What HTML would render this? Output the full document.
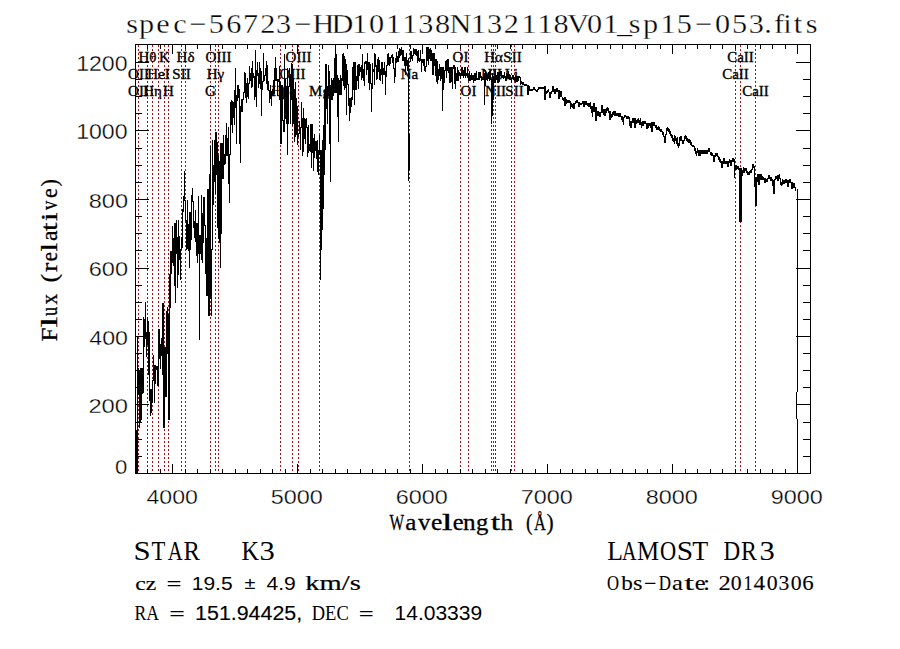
<!DOCTYPE html><html><head><meta charset="utf-8"><style>html,body{margin:0;padding:0;background:#fff;}svg{display:block}</style></head><body>
<svg width="900" height="649" viewBox="0 0 900 649">
<rect width="900" height="649" fill="#fff"/>
<path d="M138.5 45V473M147.5 45V473M152.5 45V473M158.5 45V473M164.5 45V473M168.5 45V473M181.5 45V473M185.5 45V473M210.5 45V473M215.5 45V473M218.5 45V473M280.5 45V473M292.5 45V473M298.5 45V473M319.5 45V473M409.5 45V473M460.5 45V473M468.5 45V473M491.5 45V473M493.5 45V473M495.5 45V473M511.5 45V473M514.5 45V473M735.5 45V473M740.5 45V473M755.5 45V473" stroke="#a80c12" stroke-width="1" stroke-dasharray="2 2" fill="none"/>
<rect x="135.5" y="44.5" width="675" height="429" fill="none" stroke="#000" stroke-width="1"/>
<path d="M147.5 473V469M147.5 44V49M160.5 473V469M160.5 44V49M172.5 473V464M172.5 44V54M185.5 473V469M185.5 44V49M197.5 473V469M197.5 44V49M210.5 473V469M210.5 44V49M222.5 473V469M222.5 44V49M235.5 473V469M235.5 44V49M247.5 473V469M247.5 44V49M260.5 473V469M260.5 44V49M272.5 473V469M272.5 44V49M285.5 473V469M285.5 44V49M297.5 473V464M297.5 44V54M310.5 473V469M310.5 44V49M322.5 473V469M322.5 44V49M335.5 473V469M335.5 44V49M347.5 473V469M347.5 44V49M360.5 473V469M360.5 44V49M372.5 473V469M372.5 44V49M385.5 473V469M385.5 44V49M397.5 473V469M397.5 44V49M410.5 473V469M410.5 44V49M422.5 473V464M422.5 44V54M435.5 473V469M435.5 44V49M447.5 473V469M447.5 44V49M460.5 473V469M460.5 44V49M472.5 473V469M472.5 44V49M485.5 473V469M485.5 44V49M497.5 473V469M497.5 44V49M510.5 473V469M510.5 44V49M522.5 473V469M522.5 44V49M535.5 473V469M535.5 44V49M547.5 473V464M547.5 44V54M560.5 473V469M560.5 44V49M572.5 473V469M572.5 44V49M585.5 473V469M585.5 44V49M597.5 473V469M597.5 44V49M610.5 473V469M610.5 44V49M622.5 473V469M622.5 44V49M635.5 473V469M635.5 44V49M647.5 473V469M647.5 44V49M660.5 473V469M660.5 44V49M672.5 473V464M672.5 44V54M685.5 473V469M685.5 44V49M697.5 473V469M697.5 44V49M710.5 473V469M710.5 44V49M722.5 473V469M722.5 44V49M735.5 473V469M735.5 44V49M747.5 473V469M747.5 44V49M760.5 473V469M760.5 44V49M772.5 473V469M772.5 44V49M785.5 473V469M785.5 44V49M797.5 473V464M797.5 44V54M135 456.5H142M810 456.5H803M135 439.5H142M810 439.5H803M135 422.5H142M810 422.5H803M135 404.5H149M810 404.5H796M135 387.5H142M810 387.5H803M135 370.5H142M810 370.5H803M135 353.5H142M810 353.5H803M135 336.5H149M810 336.5H796M135 319.5H142M810 319.5H803M135 302.5H142M810 302.5H803M135 285.5H142M810 285.5H803M135 268.5H149M810 268.5H796M135 250.5H142M810 250.5H803M135 233.5H142M810 233.5H803M135 216.5H142M810 216.5H803M135 199.5H149M810 199.5H796M135 182.5H142M810 182.5H803M135 165.5H142M810 165.5H803M135 148.5H142M810 148.5H803M135 130.5H149M810 130.5H796M135 113.5H142M810 113.5H803M135 96.5H142M810 96.5H803M135 79.5H142M810 79.5H803M135 62.5H149M810 62.5H796" stroke="#000" stroke-width="1" fill="none" shape-rendering="crispEdges"/>
<path d="M136.5 430V473M137.5 336V473M138.5 368V395M139.5 370V428M140.5 368V422M141.5 368V420M142.5 368V394M143.5 317V393M144.5 319V347M145.5 302V339M146.5 332V357M147.5 317V345M148.5 321V375M149.5 332V401M150.5 389V416M151.5 389V413M152.5 380V403M153.5 355V381M154.5 365V403M155.5 365V384M156.5 366V370M157.5 366V386M158.5 329V386M159.5 329V359M160.5 344V369M161.5 338V356M162.5 303V375M163.5 303V428M164.5 347V428M165.5 347V397M166.5 311V397M167.5 307V354M168.5 314V420M169.5 274V420M170.5 251V308M171.5 251V274M172.5 226V263M173.5 238V266M174.5 223V286M175.5 223V303M176.5 220V254M177.5 237V288M178.5 220V275M179.5 236V260M180.5 249V280M181.5 237V250M182.5 209V248M183.5 196V212M184.5 171V201M185.5 200V221M186.5 220V250M187.5 200V249M188.5 224V251M189.5 212V268M190.5 212V250M191.5 195V240M192.5 188V202M193.5 201V228M194.5 221V238M195.5 210V242M196.5 223V256M197.5 223V263M198.5 196V254M199.5 235V340M200.5 235V254M201.5 195V260M202.5 213V263M203.5 197V243M204.5 197V226M205.5 225V274M206.5 238V296M207.5 189V296M208.5 189V316M209.5 174V316M210.5 146V299M211.5 249V316M212.5 140V250M213.5 165V205M214.5 140V182M215.5 132V194M216.5 132V175M217.5 142V228M218.5 155V239M219.5 161V243M220.5 143V268M221.5 143V234M222.5 143V179M223.5 135V179M224.5 154V165M225.5 135V164M226.5 123V156M227.5 138V156M228.5 127V184M229.5 154V203M230.5 102V155M231.5 100V125M232.5 101V133M233.5 102V118M234.5 90V125M235.5 68V108M236.5 95V144M237.5 85V101M238.5 85V98M239.5 89V144M240.5 106V163M241.5 99V112M242.5 99V112M243.5 92V100M244.5 72V93M245.5 73V98M246.5 83V103M247.5 78V97M248.5 83V99M249.5 66V84M250.5 73V81M251.5 68V88M252.5 61V87M253.5 73V78M254.5 76V100M255.5 50V97M256.5 70V107M257.5 62V76M258.5 73V88M259.5 62V84M260.5 68V89M261.5 71V116M262.5 81V90M263.5 53V82M264.5 75V81M265.5 68V76M266.5 61V84M267.5 65V90M268.5 81V91M269.5 90V103M270.5 85V99M271.5 91V106M272.5 89V96M273.5 80V94M274.5 68V94M275.5 57V81M276.5 68V81M277.5 79V96M278.5 79V82M279.5 66V100M280.5 82V144M281.5 85V144M282.5 85V121M283.5 120V132M284.5 54V132M285.5 79V119M286.5 86V124M287.5 68V155M288.5 86V124M289.5 68V87M290.5 74V124M291.5 63V100M292.5 64V126M293.5 78V124M294.5 89V142M295.5 82V137M296.5 98V135M297.5 106V145M298.5 133V137M299.5 121V134M300.5 127V150M301.5 102V128M302.5 118V156M303.5 108V152M304.5 118V139M305.5 119V144M306.5 118V128M307.5 127V157M308.5 125V153M309.5 144V151M310.5 124V152M311.5 124V168M312.5 124V153M313.5 138V171M314.5 134V158M315.5 141V151M316.5 141V159M317.5 140V172M318.5 150V175M319.5 135V155M320.5 150V280M321.5 150V250M322.5 140V230M323.5 125V209M324.5 90V175M325.5 64V150M326.5 64V109M327.5 86V124M328.5 65V96M329.5 71V144M330.5 85V182M331.5 78V100M332.5 80V100M333.5 78V96M334.5 58V93M335.5 48V93M336.5 54V93M337.5 75V117M338.5 78V142M339.5 80V95M340.5 75V95M341.5 78V95M342.5 54V81M343.5 53V86M344.5 56V90M345.5 59V88M346.5 64V115M347.5 70V85M348.5 84V106M349.5 98V121M350.5 98V113M351.5 97V107M352.5 67V100M353.5 62V90M354.5 62V105M355.5 62V90M356.5 76V90M357.5 65V81M358.5 64V89M359.5 64V76M360.5 67V72M361.5 65V80M362.5 54V78M363.5 69V81M364.5 62V86M365.5 61V64M366.5 61V75M367.5 53V70M368.5 62V83M369.5 62V90M370.5 64V84M371.5 83V112M372.5 63V89M373.5 69V72M374.5 53V85M375.5 54V67M376.5 65V80M377.5 59V79M378.5 57V72M379.5 60V80M380.5 69V81M381.5 62V75M382.5 62V84M383.5 68V75M384.5 62V75M385.5 71V95M386.5 65V77M387.5 54V66M388.5 53V65M389.5 57V66M390.5 57V64M391.5 55V58M392.5 54V63M393.5 57V69M394.5 68V83M395.5 58V77M396.5 52V63M397.5 56V62M398.5 51V62M399.5 48V58M400.5 49V56M401.5 47V55M402.5 50V61M403.5 50V61M404.5 57V66M405.5 57V75M406.5 53V66M407.5 60V71M408.5 58V181M410.5 51V62M411.5 51V59M412.5 55V61M413.5 48V56M414.5 49V54M415.5 49V55M416.5 49V56M417.5 51V63M418.5 50V61M419.5 58V62M420.5 50V61M421.5 59V72M422.5 59V63M423.5 59V66M424.5 59V71M425.5 66V72M426.5 47V67M427.5 47V61M428.5 47V65M429.5 49V59M430.5 48V61M431.5 50V61M432.5 53V75M433.5 53V75M434.5 53V66M435.5 59V76M436.5 59V82M437.5 61V84M438.5 69V80M439.5 64V76M440.5 67V81M441.5 67V79M442.5 67V111M443.5 67V90M444.5 70V83M445.5 61V71M446.5 60V78M447.5 59V71M448.5 59V73M449.5 67V83M450.5 67V83M451.5 67V82M452.5 67V89M453.5 65V69M454.5 65V84M455.5 67V89M456.5 73V81M457.5 67V81M458.5 70V81M459.5 72V76M460.5 73V79M461.5 67V76M462.5 67V76M463.5 70V78M464.5 67V76M465.5 67V78M466.5 73V76M467.5 67V78M468.5 74V81M469.5 71V81M470.5 75V81M471.5 73V80M472.5 75V80M473.5 75V83M474.5 73V81M475.5 73V81M476.5 71V80M477.5 78V80M478.5 72V80M479.5 72V80M480.5 72V78M481.5 76V81M482.5 77V80M483.5 70V80M484.5 73V105M485.5 70V86M486.5 73V80M487.5 75V81M488.5 72V79M489.5 71V81M490.5 70V80M491.5 79V124M492.5 73V116M493.5 76V100M494.5 78V83M495.5 71V83M496.5 75V80M497.5 72V83M498.5 72V83M499.5 72V82M500.5 71V76M501.5 71V78M502.5 75V78M503.5 75V79M504.5 72V78M505.5 76V81M506.5 73V81M507.5 74V78M508.5 71V79M509.5 74V80M510.5 75V80M511.5 78V83M512.5 75V79M513.5 75V80M514.5 77V81M515.5 75V83M516.5 76V82M517.5 76V82M518.5 76V81M519.5 76V78M520.5 77V85M521.5 81V84M522.5 82V85M523.5 82V85M524.5 84V86M525.5 84V86M526.5 84V86M527.5 85V95M528.5 85V95M529.5 86V91M530.5 89V91M531.5 89V91M532.5 89V91M533.5 87V90M534.5 87V90M535.5 89V91M536.5 90V92M537.5 89V92M538.5 87V90M539.5 87V89M540.5 87V89M541.5 87V89M542.5 87V89M543.5 87V89M544.5 86V100M545.5 86V100M546.5 91V94M547.5 90V93M548.5 89V92M549.5 92V98M550.5 92V98M551.5 91V94M552.5 86V92M553.5 86V92M554.5 89V94M555.5 89V94M556.5 88V92M557.5 88V92M558.5 90V99M559.5 90V99M560.5 91V97M561.5 91V97M562.5 97V100M563.5 98V101M564.5 97V106M565.5 97V106M566.5 99V104M567.5 100V103M568.5 100V103M569.5 100V103M570.5 101V109M571.5 103V107M572.5 104V108M573.5 103V109M574.5 103V109M575.5 101V104M576.5 100V103M577.5 100V103M578.5 102V107M579.5 102V107M580.5 103V105M581.5 103V105M582.5 101V104M583.5 101V107M584.5 101V107M585.5 101V105M586.5 101V105M587.5 103V106M588.5 103V107M589.5 103V107M590.5 102V109M591.5 106V113M592.5 106V117M593.5 103V112M594.5 103V112M595.5 107V121M596.5 107V121M597.5 111V116M598.5 111V116M599.5 112V117M600.5 112V117M601.5 105V113M602.5 105V113M603.5 109V115M604.5 109V116M605.5 109V116M606.5 108V113M607.5 107V111M608.5 108V113M609.5 111V120M610.5 111V120M611.5 114V118M612.5 112V117M613.5 111V115M614.5 111V116M615.5 111V116M616.5 113V116M617.5 113V116M618.5 113V117M619.5 113V117M620.5 113V117M621.5 116V120M622.5 116V122M623.5 117V125M624.5 115V118M625.5 115V117M626.5 116V119M627.5 116V119M628.5 116V119M629.5 117V126M630.5 121V128M631.5 121V128M632.5 118V123M633.5 118V123M634.5 118V128M635.5 118V128M636.5 120V124M637.5 119V123M638.5 118V123M639.5 120V125M640.5 118V125M641.5 122V128M642.5 121V126M643.5 121V126M644.5 121V124M645.5 121V124M646.5 123V129M647.5 123V129M648.5 123V128M649.5 123V126M650.5 123V128M651.5 122V132M652.5 122V132M653.5 122V126M654.5 122V126M655.5 125V128M656.5 125V130M657.5 127V130M658.5 126V130M659.5 127V131M660.5 129V132M661.5 129V132M662.5 131V135M663.5 132V137M664.5 136V143M665.5 134V143M666.5 128V135M667.5 127V131M668.5 128V132M669.5 129V134M670.5 131V136M671.5 134V138M672.5 135V141M673.5 138V142M674.5 135V144M675.5 136V141M676.5 138V144M677.5 137V146M678.5 143V148M679.5 137V146M680.5 136V141M681.5 136V141M682.5 140V144M683.5 140V144M684.5 136V141M685.5 135V139M686.5 136V141M687.5 138V142M688.5 139V143M689.5 139V143M690.5 140V145M691.5 142V146M692.5 145V147M693.5 145V147M694.5 146V151M695.5 148V154M696.5 151V156M697.5 148V153M698.5 150V156M699.5 150V156M700.5 150V156M701.5 150V154M702.5 150V154M703.5 150V154M704.5 150V154M705.5 150V154M706.5 150V154M707.5 150V154M708.5 148V152M709.5 148V152M710.5 152V155M711.5 152V156M712.5 153V156M713.5 155V162M714.5 155V162M715.5 153V157M716.5 153V156M717.5 153V157M718.5 156V160M719.5 157V162M720.5 159V163M721.5 161V168M722.5 161V168M723.5 158V164M724.5 158V164M725.5 161V164M726.5 161V164M727.5 161V167M728.5 161V167M729.5 159V163M730.5 160V166M731.5 160V166M732.5 158V162M733.5 158V162M734.5 159V178M735.5 165V170M736.5 165V170M737.5 166V169M738.5 166V170M739.5 168V222M740.5 168V222M741.5 168V222M742.5 170V176M743.5 167V173M744.5 168V173M745.5 168V171M746.5 168V173M747.5 171V175M748.5 172V175M749.5 171V175M750.5 170V173M751.5 169V173M752.5 164V170M753.5 164V168M754.5 166V187M755.5 177V206M756.5 177V206M757.5 174V182M758.5 174V185M759.5 174V185M760.5 174V180M761.5 174V180M762.5 176V180M763.5 177V180M764.5 178V183M765.5 178V183M766.5 179V182M767.5 178V182M768.5 175V179M769.5 175V179M770.5 177V181M771.5 177V181M772.5 179V186M773.5 180V194M774.5 179V194M775.5 176V180M776.5 176V179M777.5 175V181M778.5 175V181M779.5 174V179M780.5 178V185M781.5 182V186M782.5 179V185M783.5 180V184M784.5 180V184M785.5 179V183M786.5 179V183M787.5 180V187M788.5 180V187M789.5 179V183M790.5 179V183M791.5 182V189M792.5 182V189M793.5 183V188M794.5 183V188M795.5 187V191M409.5 134V170" stroke="#000" stroke-width="1" fill="none" shape-rendering="crispEdges"/>
<path d="M797.5 189V392M796.5 392V419M797.5 419V473" stroke="#000" stroke-width="1" fill="none" shape-rendering="crispEdges"/>
<g font-family="Liberation Serif" font-size="15" fill="#000" stroke="#000" stroke-width="0.35"><text x="147.5" y="61.5" text-anchor="middle">Hθ</text><text x="164.5" y="61.5" text-anchor="middle">K</text><text x="185.5" y="61.5" text-anchor="middle">Hδ</text><text x="218.5" y="61.5" text-anchor="middle">OIII</text><text x="298.5" y="61.5" text-anchor="middle">OIII</text><text x="460.5" y="61.5" text-anchor="middle">OI</text><text x="493.5" y="61.5" text-anchor="middle">Hα</text><text x="512.5" y="61.5" text-anchor="middle">SII</text><text x="740.5" y="61.5" text-anchor="middle">CaII</text><text x="138.5" y="79" text-anchor="middle">OII</text><text x="158.5" y="79" text-anchor="middle">HeI</text><text x="181.5" y="79" text-anchor="middle">SII</text><text x="215.5" y="79" text-anchor="middle">Hγ</text><text x="292.5" y="79" text-anchor="middle">OIII</text><text x="409.5" y="79" text-anchor="middle">Na</text><text x="491.5" y="79" text-anchor="middle">NII</text><text x="511.5" y="79" text-anchor="middle">Li</text><text x="735.5" y="79" text-anchor="middle">CaII</text><text x="138.5" y="96" text-anchor="middle">OII</text><text x="152.5" y="96" text-anchor="middle">Hη</text><text x="168.5" y="96" text-anchor="middle">H</text><text x="210.5" y="96" text-anchor="middle">G</text><text x="280.5" y="96" text-anchor="middle">Hβ</text><text x="319.5" y="96" text-anchor="middle">Mg</text><text x="468.5" y="96" text-anchor="middle">OI</text><text x="495.5" y="96" text-anchor="middle">NII</text><text x="514.5" y="96" text-anchor="middle">SII</text><text x="755.5" y="96" text-anchor="middle">CaII</text></g>
<text transform="translate(389.40,529.70) scale(0.3868,0.5600)" font-family="Liberation Serif" font-weight="normal" font-size="40" stroke="#000" stroke-width="0.50">W</text>
<text transform="translate(405.27,529.70) scale(0.6294,0.5600)" font-family="Liberation Serif" font-weight="normal" font-size="40" stroke="#000" stroke-width="0.50">a</text>
<text transform="translate(417.90,529.70) scale(0.6200,0.5600)" font-family="Liberation Serif" font-weight="normal" font-size="40" stroke="#000" stroke-width="0.50">v</text>
<text transform="translate(431.06,529.70) scale(0.6375,0.5600)" font-family="Liberation Serif" font-weight="normal" font-size="40" stroke="#000" stroke-width="0.50">e</text>
<text transform="translate(441.82,529.70) scale(0.9800,0.5600)" font-family="Liberation Serif" font-weight="normal" font-size="40" stroke="#000" stroke-width="0.50">l</text>
<text transform="translate(452.79,529.70) scale(0.6125,0.5600)" font-family="Liberation Serif" font-weight="normal" font-size="40" stroke="#000" stroke-width="0.50">e</text>
<text transform="translate(462.97,529.70) scale(0.6316,0.5600)" font-family="Liberation Serif" font-weight="normal" font-size="40" stroke="#000" stroke-width="0.50">n</text>
<text transform="translate(476.07,529.70) scale(0.6167,0.5600)" font-family="Liberation Serif" font-weight="normal" font-size="40" stroke="#000" stroke-width="0.50">g</text>
<text transform="translate(490.70,529.70) scale(0.8455,0.5600)" font-family="Liberation Serif" font-weight="normal" font-size="40" stroke="#000" stroke-width="0.50">t</text>
<text transform="translate(500.40,529.70) scale(0.6250,0.5600)" font-family="Liberation Serif" font-weight="normal" font-size="40" stroke="#000" stroke-width="0.50">h</text>
<text transform="translate(526.02,529.70) scale(0.4900,0.5600)" font-family="Liberation Serif" font-weight="normal" font-size="40" stroke="#000" stroke-width="0.50">(</text>
<text transform="translate(534.00,529.70) scale(0.4103,0.5600)" font-family="Liberation Serif" font-weight="normal" font-size="40" stroke="#000" stroke-width="0.50">Å</text>
<text transform="translate(546.46,529.70) scale(0.5364,0.5600)" font-family="Liberation Serif" font-weight="normal" font-size="40" stroke="#000" stroke-width="0.50">)</text>
<text transform="translate(607.07,589.60) scale(0.4160,0.5150)" font-family="Liberation Serif" font-weight="normal" font-size="40" stroke="#000" stroke-width="0.24">O</text>
<text transform="translate(621.30,589.60) scale(0.5789,0.5150)" font-family="Liberation Serif" font-weight="normal" font-size="40" stroke="#000" stroke-width="0.24">b</text>
<text transform="translate(632.98,589.60) scale(0.6083,0.5150)" font-family="Liberation Serif" font-weight="normal" font-size="40" stroke="#000" stroke-width="0.24">s</text>
<text transform="translate(644.11,589.60) scale(0.5474,0.5150)" font-family="Liberation Serif" font-weight="normal" font-size="40" stroke="#000" stroke-width="0.24">−</text>
<text transform="translate(658.78,589.60) scale(0.4231,0.5150)" font-family="Liberation Serif" font-weight="normal" font-size="40" stroke="#000" stroke-width="0.24">D</text>
<text transform="translate(672.09,589.60) scale(0.6125,0.5150)" font-family="Liberation Serif" font-weight="normal" font-size="40" stroke="#000" stroke-width="0.24">a</text>
<text transform="translate(684.30,589.60) scale(0.8909,0.5150)" font-family="Liberation Serif" font-weight="normal" font-size="40" stroke="#000" stroke-width="0.24">t</text>
<text transform="translate(694.69,589.60) scale(0.6125,0.5150)" font-family="Liberation Serif" font-weight="normal" font-size="40" stroke="#000" stroke-width="0.24">e</text>
<text transform="translate(703.30,589.60) scale(0.6000,0.5150)" font-family="Liberation Serif" font-weight="normal" font-size="40" stroke="#000" stroke-width="0.24">:</text>
<text transform="translate(718.48,589.60) scale(0.6125,0.5150)" font-family="Liberation Serif" font-weight="normal" font-size="40" stroke="#000" stroke-width="0.24">2</text>
<text transform="translate(730.76,589.60) scale(0.5444,0.5150)" font-family="Liberation Serif" font-weight="normal" font-size="40" stroke="#000" stroke-width="0.24">0</text>
<text transform="translate(743.46,589.60) scale(0.4467,0.5150)" font-family="Liberation Serif" font-weight="normal" font-size="40" stroke="#000" stroke-width="0.24">1</text>
<text transform="translate(753.42,589.60) scale(0.5789,0.5150)" font-family="Liberation Serif" font-weight="normal" font-size="40" stroke="#000" stroke-width="0.24">4</text>
<text transform="translate(766.86,589.60) scale(0.5444,0.5150)" font-family="Liberation Serif" font-weight="normal" font-size="40" stroke="#000" stroke-width="0.24">0</text>
<text transform="translate(778.52,589.60) scale(0.5412,0.5150)" font-family="Liberation Serif" font-weight="normal" font-size="40" stroke="#000" stroke-width="0.24">3</text>
<text transform="translate(790.66,589.60) scale(0.5444,0.5150)" font-family="Liberation Serif" font-weight="normal" font-size="40" stroke="#000" stroke-width="0.24">0</text>
<text transform="translate(802.36,589.60) scale(0.5706,0.5150)" font-family="Liberation Serif" font-weight="normal" font-size="40" stroke="#000" stroke-width="0.24">6</text>
<text transform="translate(607.36,559.50) scale(0.6429,0.7050)" font-family="Liberation Serif" font-weight="normal" font-size="40">L</text>
<text transform="translate(622.00,559.50) scale(0.5000,0.7050)" font-family="Liberation Serif" font-weight="normal" font-size="40">A</text>
<text transform="translate(636.88,559.50) scale(0.6212,0.7050)" font-family="Liberation Serif" font-weight="normal" font-size="40">M</text>
<text transform="translate(659.88,559.50) scale(0.5600,0.7050)" font-family="Liberation Serif" font-weight="normal" font-size="40">O</text>
<text transform="translate(676.79,559.50) scale(0.7353,0.7050)" font-family="Liberation Serif" font-weight="normal" font-size="40">S</text>
<text transform="translate(692.35,559.50) scale(0.6522,0.7050)" font-family="Liberation Serif" font-weight="normal" font-size="40">T</text>
<text transform="translate(723.42,559.50) scale(0.5769,0.7050)" font-family="Liberation Serif" font-weight="normal" font-size="40">D</text>
<text transform="translate(740.90,559.50) scale(0.5962,0.7050)" font-family="Liberation Serif" font-weight="normal" font-size="40">R</text>
<text transform="translate(759.47,559.50) scale(0.7647,0.7050)" font-family="Liberation Serif" font-weight="normal" font-size="40">3</text>
<text transform="translate(133.59,559.70) scale(0.7706,0.7050)" font-family="Liberation Serif" font-weight="normal" font-size="40">S</text>
<text transform="translate(151.43,559.70) scale(0.5652,0.7050)" font-family="Liberation Serif" font-weight="normal" font-size="40">T</text>
<text transform="translate(167.70,559.70) scale(0.5172,0.7050)" font-family="Liberation Serif" font-weight="normal" font-size="40">A</text>
<text transform="translate(183.38,559.70) scale(0.6154,0.7050)" font-family="Liberation Serif" font-weight="normal" font-size="40">R</text>
<text transform="translate(241.39,559.70) scale(0.6071,0.7050)" font-family="Liberation Serif" font-weight="normal" font-size="40">K</text>
<text transform="translate(259.47,559.70) scale(0.7647,0.7050)" font-family="Liberation Serif" font-weight="normal" font-size="40">3</text>
<text transform="translate(57.20,341.52) rotate(-90) scale(0.6250,0.5750)" font-family="Liberation Serif" font-weight="normal" font-size="40" stroke="#000" stroke-width="0.50">F</text>
<text transform="translate(57.20,327.46) rotate(-90) scale(0.9600,0.5750)" font-family="Liberation Serif" font-weight="normal" font-size="40" stroke="#000" stroke-width="0.50">l</text>
<text transform="translate(57.20,315.90) rotate(-90) scale(0.4600,0.5750)" font-family="Liberation Serif" font-weight="normal" font-size="40" stroke="#000" stroke-width="0.50">u</text>
<text transform="translate(57.20,304.40) rotate(-90) scale(0.5300,0.5750)" font-family="Liberation Serif" font-weight="normal" font-size="40" stroke="#000" stroke-width="0.50">x</text>
<text transform="translate(57.20,282.40) rotate(-90) scale(0.6500,0.5750)" font-family="Liberation Serif" font-weight="normal" font-size="40" stroke="#000" stroke-width="0.50">(</text>
<text transform="translate(57.20,272.09) rotate(-90) scale(0.6917,0.5750)" font-family="Liberation Serif" font-weight="normal" font-size="40" stroke="#000" stroke-width="0.50">r</text>
<text transform="translate(57.20,261.32) rotate(-90) scale(0.5188,0.5750)" font-family="Liberation Serif" font-weight="normal" font-size="40" stroke="#000" stroke-width="0.50">e</text>
<text transform="translate(57.20,251.38) rotate(-90) scale(0.7800,0.5750)" font-family="Liberation Serif" font-weight="normal" font-size="40" stroke="#000" stroke-width="0.50">l</text>
<text transform="translate(57.20,241.10) rotate(-90) scale(0.6000,0.5750)" font-family="Liberation Serif" font-weight="normal" font-size="40" stroke="#000" stroke-width="0.50">a</text>
<text transform="translate(57.20,231.10) rotate(-90) scale(0.7545,0.5750)" font-family="Liberation Serif" font-weight="normal" font-size="40" stroke="#000" stroke-width="0.50">t</text>
<text transform="translate(57.20,221.29) rotate(-90) scale(0.7900,0.5750)" font-family="Liberation Serif" font-weight="normal" font-size="40" stroke="#000" stroke-width="0.50">i</text>
<text transform="translate(57.20,209.90) rotate(-90) scale(0.4650,0.5750)" font-family="Liberation Serif" font-weight="normal" font-size="40" stroke="#000" stroke-width="0.50">v</text>
<text transform="translate(57.20,197.95) rotate(-90) scale(0.5500,0.5750)" font-family="Liberation Serif" font-weight="normal" font-size="40" stroke="#000" stroke-width="0.50">e</text>
<text transform="translate(57.20,186.45) rotate(-90) scale(0.5545,0.5750)" font-family="Liberation Serif" font-weight="normal" font-size="40" stroke="#000" stroke-width="0.50">)</text>
<text transform="scale(1.12,1)" x="118.04 130.94 145.58 160.80 176.61 193.08 208.75 223.66 239.06 253.17 270.45 288.88 305.76 321.21 336.12 351.29 365.94 380.27 395.13 411.12 427.19 441.65 456.56 472.32 486.61 500.89 516.16 530.85 545.45 557.72 566.70 580.76 596.43 611.03 628.08 645.13 660.22 675.18 685.71 695.67 702.99 712.50 724.60" y="33" font-family="Liberation Serif" font-size="27" text-anchor="middle" stroke="#fff" stroke-width="0.3">spec−56723−HD101138N132118V01_sp15−053.fits</text>
<text transform="translate(76.17,70.90) scale(0.5776,0.5286)" font-family="Liberation Sans" font-weight="normal" font-size="40" stroke="#fff" stroke-width="0.6" xml:space="preserve">1200</text>
<text transform="translate(76.17,138.80) scale(0.5776,0.5286)" font-family="Liberation Sans" font-weight="normal" font-size="40" stroke="#fff" stroke-width="0.6" xml:space="preserve">1000</text>
<text transform="translate(88.72,207.70) scale(0.5889,0.5286)" font-family="Liberation Sans" font-weight="normal" font-size="40" stroke="#fff" stroke-width="0.6" xml:space="preserve">800</text>
<text transform="translate(88.72,276.20) scale(0.5889,0.5286)" font-family="Liberation Sans" font-weight="normal" font-size="40" stroke="#fff" stroke-width="0.6" xml:space="preserve">600</text>
<text transform="translate(89.32,344.70) scale(0.5797,0.5286)" font-family="Liberation Sans" font-weight="normal" font-size="40" stroke="#fff" stroke-width="0.6" xml:space="preserve">400</text>
<text transform="translate(88.41,413.20) scale(0.5937,0.5250)" font-family="Liberation Sans" font-weight="normal" font-size="40" stroke="#fff" stroke-width="0.6" xml:space="preserve">200</text>
<text transform="translate(115.09,473.50) scale(0.5526,0.5179)" font-family="Liberation Sans" font-weight="normal" font-size="40" stroke="#fff" stroke-width="0.6" xml:space="preserve">0</text>
<text transform="translate(146.42,503.70) scale(0.5782,0.5250)" font-family="Liberation Sans" font-weight="normal" font-size="40" stroke="#fff" stroke-width="0.6" xml:space="preserve">4000</text>
<text transform="translate(270.83,503.70) scale(0.5849,0.5250)" font-family="Liberation Sans" font-weight="normal" font-size="40" stroke="#fff" stroke-width="0.6" xml:space="preserve">5000</text>
<text transform="translate(395.83,503.70) scale(0.5849,0.5250)" font-family="Liberation Sans" font-weight="normal" font-size="40" stroke="#fff" stroke-width="0.6" xml:space="preserve">6000</text>
<text transform="translate(520.83,503.70) scale(0.5849,0.5250)" font-family="Liberation Sans" font-weight="normal" font-size="40" stroke="#fff" stroke-width="0.6" xml:space="preserve">7000</text>
<text transform="translate(645.83,503.70) scale(0.5849,0.5250)" font-family="Liberation Sans" font-weight="normal" font-size="40" stroke="#fff" stroke-width="0.6" xml:space="preserve">8000</text>
<text transform="translate(770.83,503.70) scale(0.5849,0.5250)" font-family="Liberation Sans" font-weight="normal" font-size="40" stroke="#fff" stroke-width="0.6" xml:space="preserve">9000</text>
<text transform="translate(135.31,589.80) scale(0.5912,0.4900)" font-family="Liberation Serif" font-weight="normal" font-size="40" stroke="#000" stroke-width="0.40" xml:space="preserve">cz</text>
<text transform="translate(166.52,589.09) scale(0.6421,0.3846)" font-family="Liberation Sans" font-weight="normal" font-size="40" xml:space="preserve">=</text>
<text transform="translate(191.72,589.80) scale(0.5260,0.4786)" font-family="Liberation Sans" font-weight="normal" font-size="40" xml:space="preserve">19.5</text>
<text transform="translate(244.50,589.20) scale(0.5000,0.4200)" font-family="Liberation Sans" font-weight="normal" font-size="40" xml:space="preserve">±</text>
<text transform="translate(266.47,589.80) scale(0.5283,0.4571)" font-family="Liberation Sans" font-weight="normal" font-size="40" xml:space="preserve">4.9</text>
<text transform="translate(305.29,590.00) scale(0.7145,0.5179)" font-family="Liberation Serif" font-weight="normal" font-size="40" stroke="#000" stroke-width="0.40" xml:space="preserve">km/s</text>
<text transform="translate(134.56,620.00) scale(0.4426,0.5346)" font-family="Liberation Serif" font-weight="normal" font-size="40" xml:space="preserve">RA</text>
<text transform="translate(169.26,618.79) scale(0.6684,0.3846)" font-family="Liberation Sans" font-weight="normal" font-size="40" xml:space="preserve">=</text>
<text transform="translate(195.09,619.76) scale(0.5351,0.4879)" font-family="Liberation Sans" font-weight="normal" font-size="40" stroke="#000" stroke-width="0.30" xml:space="preserve">151.94425,</text>
<text transform="translate(311.74,620.00) scale(0.4623,0.5346)" font-family="Liberation Serif" font-weight="normal" font-size="40" xml:space="preserve">DEC</text>
<text transform="translate(358.72,618.79) scale(0.6421,0.3846)" font-family="Liberation Sans" font-weight="normal" font-size="40" xml:space="preserve">=</text>
<text transform="translate(394.52,620.00) scale(0.5259,0.4964)" font-family="Liberation Sans" font-weight="normal" font-size="40" xml:space="preserve">14.03339</text>
</svg></body></html>
